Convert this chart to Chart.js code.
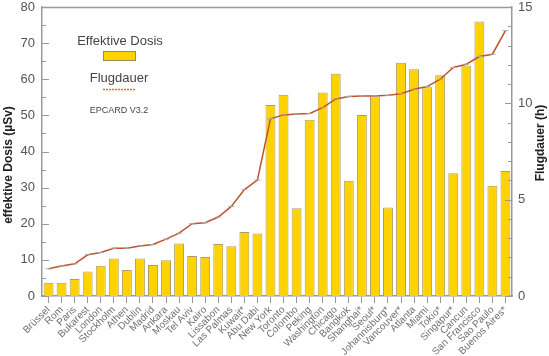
<!DOCTYPE html>
<html>
<head>
<meta charset="utf-8">
<script src="https://cdn.jsdelivr.net/npm/chart.js@4/dist/chart.umd.min.js"></script>
<style>
html,body{margin:0;padding:0;background:#fff;}
#wrap{width:549px;height:356px;}
</style>
</head>
<body>
<div id="wrap"><canvas id="c" width="549" height="356"></canvas></div>
<script>
const cities = ["Brüssel","Rom","Paris","Bukarest","London","Stockholm","Athen","Dublin","Madrid","Ankara","Moskau","Tel Aviv","Kairo","Lissabon","Las Palmas","Kuwait*","Abu Dabi","New York","Toronto","Colombo","Peking","Washington","Chicago","Bangkok","Shanghai*","Seoul*","Johannisburg*","Vancouver*","Atlanta","Miami","Tokio*","Singapur*","Cancun","San Francisco","Sao Paulo","Buenos Aires*"];
const doseValues = [3.7,3.7,4.7,6.8,8.4,10.4,7.2,10.4,8.6,9.9,14.5,11.1,10.8,14.4,13.8,17.7,17.3,52.9,55.7,24.3,48.8,56.3,61.5,31.9,50.1,55.2,24.5,64.6,62.8,57.8,61.1,34.0,63.8,76.0,30.5,34.6];
const flightHours = [1.41,1.56,1.67,2.14,2.26,2.48,2.48,2.6,2.67,2.95,3.26,3.75,3.8,4.1,4.65,5.52,6.02,9.2,9.4,9.44,9.47,9.78,10.23,10.36,10.38,10.38,10.42,10.5,10.73,10.87,11.25,11.86,12.03,12.43,12.55,13.77];
const doseTicks = [0,10,20,30,40,50,60,70,80];
const hourTicks = [0,5,10,15];

const FONT = "'Liberation Sans', Arial, Helvetica, sans-serif";
const AXIS = '#9a9a9a';

const decor = {
  id: 'decor',
  afterDraw(chart) {
    const ctx = chart.ctx;
    const a = chart.chartArea;
    const y = chart.scales.y, y1 = chart.scales.y1;
    ctx.save();
    ctx.strokeStyle = AXIS; ctx.lineWidth = 1.5;
    ctx.beginPath(); ctx.moveTo(a.left, a.top + 0.5); ctx.lineTo(a.right, a.top + 0.5); ctx.stroke();
    ctx.lineWidth = 1;
    for (let v = y.min; v <= y.max; v += 5) {
      const py = Math.round(y.getPixelForValue(v)) + 0.5;
      const len = (v % 10 === 0) ? 7 : 4;
      ctx.beginPath(); ctx.moveTo(a.left, py); ctx.lineTo(a.left + len, py); ctx.stroke();
    }
    for (let v = y1.min; v <= y1.max; v += 1) {
      const py = Math.round(y1.getPixelForValue(v)) + 0.5;
      const len = (v % 5 === 0) ? 7 : 4;
      ctx.beginPath(); ctx.moveTo(a.right, py); ctx.lineTo(a.right - len, py); ctx.stroke();
    }
    ctx.fillStyle = '#222';
    ctx.font = 'bold 12px ' + FONT;
    ctx.textAlign = 'center'; ctx.textBaseline = 'middle';
    ctx.save(); ctx.translate(9, 165); ctx.rotate(-Math.PI/2);
    ctx.fillText('effektive Dosis (µSv)', 0, 0); ctx.restore();
    ctx.save(); ctx.translate(541, 143); ctx.rotate(-Math.PI/2);
    ctx.fillText('Flugdauer (h)', 0, 0); ctx.restore();
    ctx.fillStyle = '#444';
    ctx.font = '13px ' + FONT;
    ctx.fillText('Effektive Dosis', 120, 41);
    ctx.fillStyle = '#FFD200'; ctx.fillRect(103, 51, 33, 10);
    ctx.strokeStyle = '#9a8c4a'; ctx.strokeRect(103.5, 51.5, 32, 9);
    ctx.fillStyle = '#444';
    ctx.fillText('Flugdauer', 119, 78);
    ctx.strokeStyle = '#d0703a'; ctx.lineWidth = 1.5; ctx.setLineDash([2,1]);
    ctx.beginPath(); ctx.moveTo(103, 89.5); ctx.lineTo(136, 89.5); ctx.stroke();
    ctx.setLineDash([]);
    ctx.fillStyle = '#444';
    ctx.font = '9px ' + FONT;
    ctx.fillText('EPCARD V3.2', 119, 111);
    ctx.restore();
  }
};

function fixY(w) {
  return function(s) { s.width = w; s.paddingTop = 7; s.paddingBottom = 0; };
}

new Chart(document.getElementById('c'), {
  data: {
    labels: cities,
    datasets: [
      {
        type: 'line', label: 'Flugdauer', data: flightHours, yAxisID: 'y1', order: 0,
        borderColor: '#c0532e', borderWidth: 1.5, tension: 0,
        pointStyle: 'line', pointRadius: 3, pointBorderColor: '#aaaaaa', pointBorderWidth: 1,
        pointBackgroundColor: '#aaaaaa'
      },
      {
        type: 'bar', label: 'Effektive Dosis', data: doseValues, yAxisID: 'y', order: 1,
        backgroundColor: '#FFD200', borderColor: '#ab9f60', borderWidth: 1,
        barPercentage: 0.8, categoryPercentage: 0.95
      }
    ]
  },
  options: {
    responsive: false, animation: false,
    layout: { padding: { top: 0, left: 0, right: 0, bottom: 0 } },
    plugins: { legend: { display: false }, tooltip: { enabled: false } },
    scales: {
      x: {
        offset: true,
        grid: { drawOnChartArea: false, drawTicks: true, tickLength: 7, offset: false, color: AXIS },
        border: { display: true, color: AXIS, width: 1.5 },
        ticks: { autoSkip: false, minRotation: 45, maxRotation: 45, padding: 1, color: '#707070', font: { family: FONT, size: 10 } },
        afterFit(s) { s.height = 60; s.paddingLeft = 0; s.paddingRight = 0; }
      },
      y: {
        position: 'left', min: 0, max: 80,
        afterBuildTicks(s) { s.ticks = doseTicks.map(v => ({ value: v })); },
        grid: { display: false, drawTicks: false },
        border: { display: true, color: AXIS, width: 1.5 },
        ticks: { padding: 7, color: '#555', font: { family: FONT, size: 13 } },
        afterFit: fixY(42)
      },
      y1: {
        position: 'right', min: 0, max: 15,
        afterBuildTicks(s) { s.ticks = hourTicks.map(v => ({ value: v })); },
        grid: { display: false, drawTicks: false },
        border: { display: true, color: AXIS, width: 1.5 },
        ticks: { padding: 6, color: '#555', font: { family: FONT, size: 13 } },
        afterFit: fixY(37)
      }
    }
  },
  plugins: [decor]
});
</script>
</body>
</html>
